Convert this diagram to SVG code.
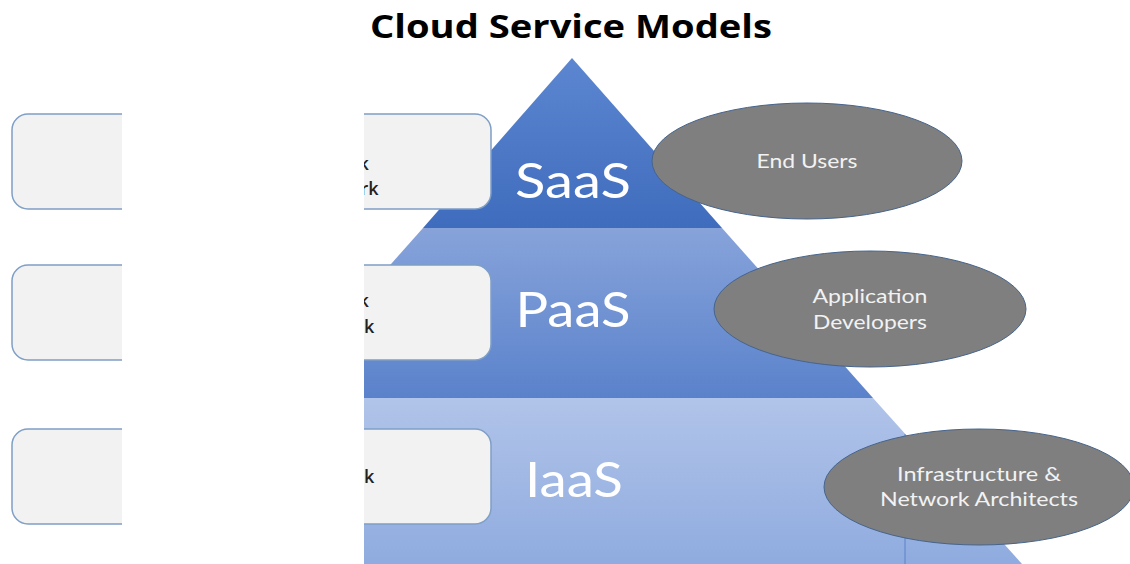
<svg xmlns="http://www.w3.org/2000/svg" width="1130" height="564" viewBox="0 0 1130 564">
<style>
.box{fill:#f2f2f2;stroke:#7f9fc6;stroke-width:1.5}
.oval{fill:#7f7f7f;stroke:#46648c;stroke-width:1}
.tier{font-family:"Lato","Open Sans",sans-serif;font-size:48px;fill:#fff;text-anchor:middle}
.who{font-family:"Lato","Open Sans",sans-serif;font-size:20px;fill:#f2f2f2;text-anchor:middle}
.frag{font-family:"Open Sans",sans-serif;font-size:18px;font-weight:600;fill:#222}
</style>
<defs>
<linearGradient id="g1" x1="0" y1="0" x2="0" y2="1"><stop offset="0" stop-color="#5c86d0"/><stop offset="1" stop-color="#3f6cbd"/></linearGradient>
<linearGradient id="g2" x1="0" y1="0" x2="0" y2="1"><stop offset="0" stop-color="#87a3da"/><stop offset="1" stop-color="#5a82cb"/></linearGradient>
<linearGradient id="g3" x1="0" y1="0" x2="0" y2="1"><stop offset="0" stop-color="#b1c4e9"/><stop offset="1" stop-color="#8fabdf"/></linearGradient>
<clipPath id="cut"><rect x="364" y="0" width="140" height="564"/></clipPath>
</defs>
<g id="pyramid">
<polygon points="572,58 722,228 423,228" fill="url(#g1)"/>
<polygon points="423,228 722,228 873,398 272,398" fill="url(#g2)"/>
<polygon points="272,398 873,398 1022,564 122,564" fill="url(#g3)"/>
<line x1="905" y1="434" x2="905" y2="564" stroke="#5b82cb" stroke-width="1"/>
</g>
<g id="box-saas"><rect class="box" x="12" y="114" width="479" height="95" rx="16"/></g>
<g id="box-paas"><rect class="box" x="12" y="265" width="479" height="95" rx="16"/></g>
<g id="box-iaas"><rect class="box" x="12" y="429" width="479" height="95" rx="16"/></g>
<rect id="mask" x="122" y="0" width="242" height="564" fill="#fff"/>
<g clip-path="url(#cut)">
<text class="frag" x="358.5" y="170">k</text>
<text class="frag" x="360.5" y="195">rk</text>
<text class="frag" x="358.5" y="307">k</text>
<text class="frag" x="364" y="333">k</text>
<text class="frag" x="364" y="483">k</text>
</g>
<g id="saas"><text class="tier" x="573" y="198" textLength="116" lengthAdjust="spacingAndGlyphs">SaaS</text></g>
<g id="paas"><text class="tier" x="573" y="327" textLength="115" lengthAdjust="spacingAndGlyphs">PaaS</text></g>
<g id="iaas"><text class="tier" x="574" y="497" textLength="98" lengthAdjust="spacingAndGlyphs">IaaS</text></g>
<g id="end-users"><ellipse class="oval" cx="807" cy="161" rx="155" ry="58"/><text class="who" x="807" y="168" textLength="101" lengthAdjust="spacingAndGlyphs">End Users</text></g>
<g id="app-devs"><ellipse class="oval" cx="870" cy="309" rx="156" ry="58"/><text class="who" x="870" y="303" textLength="115" lengthAdjust="spacingAndGlyphs">Application</text><text class="who" x="870" y="329" textLength="114" lengthAdjust="spacingAndGlyphs">Developers</text></g>
<g id="infra"><ellipse class="oval" cx="979" cy="487" rx="155" ry="58"/><text class="who" x="979" y="481" textLength="164" lengthAdjust="spacingAndGlyphs">Infrastructure &amp;</text><text class="who" x="979" y="506" textLength="198" lengthAdjust="spacingAndGlyphs">Network Architects</text></g>
<g id="connectors"/>
<text id="title" x="571" y="38" font-family="Open Sans, sans-serif" font-weight="700" font-size="33" fill="#000" text-anchor="middle" textLength="402" lengthAdjust="spacingAndGlyphs">Cloud Service Models</text>
</svg>
